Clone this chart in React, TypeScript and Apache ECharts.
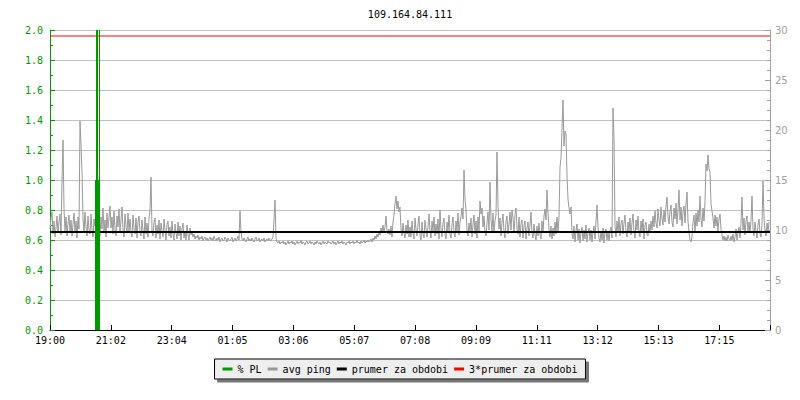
import React, { useEffect, useRef } from 'react';
import * as echarts from 'echarts';

const chartTitle = '109.164.84.111';
const xTickLabels = ['19:00', '21:02', '23:04', '01:05', '03:06', '05:07', '07:08', '09:09', '11:11', '13:12', '15:13', '17:15'];
const xTickStepMin = 121.7;
const xMaxMin = 1440;
const sampleStepMin = 2;

// avg ping (ms), one sample every 2 minutes starting at 19:00
const pingValues = [
  10.1, 11.2, 11.8, 9.6, 10.9, 9.3, 10.2, 11.4, 9.7, 10.8, 11.6, 9.5, 14.8, 19.0, 12.1, 9.9, 11.3, 9.4, 10.7, 11.5,
  9.8, 11.0, 9.4, 10.6, 11.7, 9.9, 10.9, 9.2, 11.3, 10.1, 20.9, 18.5, 15.8, 11.2, 9.7, 11.8, 10.3, 9.4, 11.4, 10.0,
  9.6, 11.6, 10.0, 9.3, 11.1, 10.4, 12.0, 9.7, 11.5, 10.3, 9.4, 11.3, 10.1, 12.2, 9.8, 11.0, 9.3, 11.7, 10.2, 11.2,
  12.4, 10.2, 11.3, 9.6, 11.9, 10.1, 9.4, 11.4, 10.3, 12.1, 9.8, 11.0, 12.3, 10.0, 9.3, 11.6, 10.4, 9.7, 11.7, 9.9,
  11.1, 9.8, 9.3, 11.5, 10.1, 9.6, 11.2, 9.2, 10.8, 11.4, 9.7, 9.4, 11.0, 10.0, 9.1, 11.3, 9.6, 10.7, 9.3, 11.1,
  12.0, 15.3, 9.9, 9.4, 10.8, 11.2, 9.2, 10.5, 9.6, 11.0, 9.1, 10.7, 9.8, 9.3, 11.1, 10.0, 9.0, 10.6, 10.9, 9.4,
  10.3, 9.2, 10.9, 9.6, 9.0, 10.6, 9.8, 9.1, 10.8, 9.4, 10.4, 9.0, 10.1, 10.7, 9.2, 9.9, 9.0, 10.5, 9.5, 9.0,
  10.2, 9.5, 9.8, 9.3, 9.6, 9.1, 9.4, 9.2, 9.5, 9.0, 9.3, 9.1, 9.4, 8.9, 9.2, 9.3, 9.0, 9.2, 8.9, 9.1,
  9.3, 9.0, 9.2, 8.9, 9.4, 9.1, 8.9, 9.2, 9.0, 9.3, 8.8, 9.1, 9.2, 8.9, 9.0, 9.3, 9.1, 8.8, 9.2, 9.0,
  8.9, 9.1, 9.3, 8.8, 9.0, 9.2, 8.9, 9.1, 9.4, 9.0, 11.9, 9.8, 9.1, 8.9, 9.2, 9.0, 8.8, 9.1, 9.3, 8.9,
  9.1, 8.9, 9.2, 9.0, 8.8, 9.1, 9.3, 8.9, 9.0, 9.2, 8.8, 9.0, 9.1, 8.9, 9.2, 8.8, 9.0, 9.1, 8.9, 9.2,
  9.0, 8.9, 9.1, 9.3, 11.0, 13.0, 9.2, 8.8, 8.7, 8.9, 8.6, 8.8, 8.7, 8.9, 8.6, 8.8, 8.5, 8.7, 8.9, 8.6,
  8.8, 8.7, 8.9, 8.6, 8.8, 8.5, 8.7, 8.9, 8.6, 8.8, 8.7, 9.0, 8.6, 8.8, 8.7, 8.5, 8.8, 8.9, 8.6, 8.7,
  8.9, 8.6, 8.8, 8.7, 8.5, 8.8, 8.6, 8.9, 8.7, 8.6, 8.8, 8.5, 8.7, 8.9, 8.6, 8.8, 8.7, 8.6, 8.9, 8.7,
  8.8, 8.6, 8.7, 8.9, 8.6, 8.8, 8.5, 8.7, 8.9, 8.6, 8.8, 8.7, 8.9, 8.6, 8.8, 8.7, 8.5, 8.8, 8.7, 8.9,
  8.6, 8.8, 8.7, 8.9, 8.6, 8.8, 8.7, 9.0, 8.7, 8.8, 8.6, 8.9, 8.7, 8.8, 9.0, 8.7, 8.9, 8.8, 9.0, 8.8,
  8.9, 9.1, 8.8, 9.2, 9.0, 9.4, 9.1, 9.6, 9.3, 9.9, 9.5, 10.2, 9.7, 10.5, 9.8, 10.3, 11.4, 10.0, 9.6, 10.1,
  9.5, 10.4, 9.3, 10.8, 11.5, 12.6, 13.4, 12.1, 12.9, 11.8, 12.3, 10.1, 9.4, 10.7, 9.7, 9.2, 10.5, 9.6, 11.0, 9.3,
  10.3, 9.3, 10.9, 9.7, 9.1, 11.2, 10.0, 9.4, 10.6, 11.4, 9.5, 9.0, 10.8, 9.6, 9.2, 11.0, 10.1, 9.3, 10.3, 11.6,
  9.8, 9.2, 10.9, 9.9, 11.3, 9.4, 10.6, 9.6, 11.1, 9.1, 12.0, 10.0, 9.3, 10.7, 11.2, 9.5, 9.1, 10.8, 9.8, 11.5,
  9.6, 9.2, 10.6, 11.3, 9.7, 9.3, 10.9, 9.9, 11.7, 9.5, 10.8, 11.4, 12.2, 11.1, 16.0, 13.1, 12.0, 10.0, 9.4, 10.7,
  9.8, 11.2, 9.3, 10.6, 11.5, 9.6, 10.9, 9.2, 11.3, 9.9, 12.9, 11.6, 12.2, 10.3, 11.4, 9.7, 9.4, 10.7, 11.8, 10.0,
  14.8, 11.0, 9.9, 11.7, 9.7, 10.9, 11.5, 17.8, 12.4, 10.1, 11.2, 9.4, 10.8, 11.6, 9.8, 9.2, 10.9, 11.4, 9.6, 10.6,
  11.8, 10.0, 12.0, 11.2, 9.8, 11.6, 12.2, 10.2, 9.6, 11.3, 9.3, 10.6, 11.0, 9.2, 10.4, 10.9, 9.1, 10.2, 10.8, 9.4,
  10.5, 11.8, 9.7, 9.2, 10.6, 9.5, 9.0, 10.4, 9.4, 10.7, 9.6, 9.1, 10.9, 9.8, 11.4, 12.1, 11.0, 14.0, 11.7, 10.1,
  9.3, 10.4, 9.1, 10.2, 9.4, 10.8, 9.6, 11.3, 9.9, 11.2, 16.3, 17.2, 20.1, 23.0, 18.4, 19.9, 19.6, 15.4, 13.1, 12.2,
  11.6, 12.3, 9.7, 9.1, 10.4, 8.8, 9.9, 10.6, 9.0, 10.1, 8.7, 9.8, 10.3, 8.9, 10.0, 9.1, 10.5, 8.8, 9.7, 10.2,
  9.0, 10.0, 8.8, 9.8, 10.4, 9.1, 10.8, 12.5, 10.3, 9.2, 8.8, 9.9, 9.0, 10.2, 8.7, 9.7, 10.1, 9.0, 9.8, 8.9,
  9.9, 10.3, 9.2, 22.2, 19.0, 10.4, 9.3, 10.9, 9.7, 11.3, 9.4, 10.6, 11.0, 9.6, 10.7, 11.5, 9.8, 9.3, 10.8, 9.9,
  11.2, 9.5, 10.7, 11.6, 9.8, 9.2, 11.0, 10.0, 11.4, 9.7, 9.3, 10.9, 9.9, 11.1, 9.1, 10.5, 10.8, 9.6, 9.4, 10.6,
  9.7, 10.9, 10.0, 11.4, 10.3, 11.9, 10.7, 10.2, 12.1, 11.0, 10.4, 12.3, 11.1, 10.5, 12.0, 10.8, 12.4, 13.3, 11.3, 10.6,
  11.9, 12.5, 10.8, 10.3, 12.2, 11.1, 12.7, 10.6, 12.0, 14.0, 11.0, 12.3, 10.4, 11.8, 12.4, 10.7, 12.6, 13.8, 10.9, 9.8,
  9.0, 8.8, 9.3, 10.8, 11.5, 9.7, 11.7, 10.4, 12.0, 10.8, 13.4, 11.1, 10.3, 12.2, 10.9, 12.8, 16.6, 15.9, 17.5, 16.1,
  15.8, 12.6, 11.9, 11.2, 10.2, 11.5, 10.4, 11.3, 9.9, 11.1, 11.6, 10.1, 9.5, 9.0, 9.4, 8.9, 9.3, 8.9, 9.5, 9.1,
  8.9, 9.4, 9.0, 9.6, 8.8, 9.3, 10.1, 9.0, 9.8, 10.3, 9.2, 10.7, 13.3, 10.0, 11.2, 9.5, 10.9, 11.4, 9.8, 10.8,
  9.7, 11.0, 13.4, 10.1, 9.4, 10.8, 9.8, 9.2, 10.5, 11.1, 9.7, 9.3, 10.6, 14.9, 11.2, 9.9, 9.4, 10.7, 9.8, 10.8,
];

// packet loss (%), step values starting at given minute
const plTimes = [0, 90, 92, 96, 98, 100, 1440];
const plValues = [0, 1.0, 5.0, 1.0, 5.0, 0, 0];

const avgPing = 9.8;
const legendNames = ['% PL', 'avg ping', 'prumer za obdobi', '3*prumer za obdobi'];

const FONT = "'DejaVu Sans Mono', monospace";
const GREEN = '#009900';
const GREY = '#999999';

export default function App() {
  const ref = useRef<HTMLDivElement>(null);
  useEffect(() => {
    if (!ref.current) return;
    const chart = echarts.init(ref.current, undefined, { renderer: 'svg' });
    const option: any = {
      animation: false,
      backgroundColor: '#ffffff',
      textStyle: { fontFamily: FONT, fontSize: 10 },
      grid: { left: 50, top: 30, width: 720, height: 300, containLabel: false },
      graphic: [
        {
          type: 'text',
          x: 410,
          y: 14,
          style: { text: chartTitle, textAlign: 'center', textVerticalAlign: 'middle', font: `10px ${FONT}`, fill: '#000' },
        },
      ],
      legend: {
        data: legendNames,
        left: 'center',
        top: 359,
        icon: 'rect',
        itemWidth: 10,
        itemHeight: 3,
        itemGap: 6,
        padding: [5, 8, 5, 8],
        backgroundColor: '#eeeeee',
        borderColor: '#000000',
        borderWidth: 1,
        borderRadius: 0,
        shadowColor: '#777777',
        shadowOffsetX: 3,
        shadowOffsetY: 3,
        shadowBlur: 0,
        selectedMode: false,
        textStyle: { color: '#000', fontFamily: FONT, fontSize: 10 },
      },
      xAxis: {
        type: 'value',
        min: 0,
        max: xMaxMin,
        interval: xTickStepMin,
        axisLine: { show: true, lineStyle: { color: '#000', width: 1 } },
        axisTick: { show: true, inside: true, length: 5, lineStyle: { color: '#000' } },
        axisLabel: {
          margin: 5,
          color: '#000',
          fontFamily: FONT,
          fontSize: 10,
          formatter: (v: number) => xTickLabels[Math.round(v / xTickStepMin)] ?? '',
        },
        splitLine: { show: false },
      },
      yAxis: [
        {
          type: 'value',
          min: 0,
          max: 2,
          interval: 0.2,
          position: 'left',
          axisLine: { show: true, lineStyle: { color: GREEN } },
          axisTick: { show: true, inside: true, length: 5, lineStyle: { color: GREEN } },
          minorTick: { show: true, splitNumber: 2, length: 3, lineStyle: { color: GREEN } },
          axisLabel: { color: GREEN, margin: 7, fontFamily: FONT, fontSize: 10, formatter: (v: number) => v.toFixed(1) },
          splitLine: { show: true, lineStyle: { color: '#c0c0c0', width: 1 } },
        },
        {
          type: 'value',
          min: 0,
          max: 30,
          interval: 5,
          position: 'right',
          axisLine: { show: true, lineStyle: { color: '#a0a0a0' } },
          axisTick: { show: true, inside: true, length: 5, lineStyle: { color: '#a0a0a0' } },
          minorTick: { show: true, splitNumber: 5, length: 3, lineStyle: { color: '#a0a0a0' } },
          axisLabel: { color: '#a0a0a0', margin: 5, fontFamily: "'DejaVu Sans', sans-serif", fontSize: 10 },
          splitLine: { show: false },
        },
      ],
      series: [
        {
          name: 'avg ping',
          type: 'line',
          yAxisIndex: 1,
          data: pingValues.map((v, i) => [i * sampleStepMin, v]),
          symbol: 'none',
          lineStyle: { color: GREY, width: 1 },
          itemStyle: { color: GREY },
          z: 2,
        },
        {
          name: 'prumer za obdobi',
          type: 'line',
          yAxisIndex: 1,
          data: [[0, avgPing], [xMaxMin, avgPing]],
          symbol: 'none',
          lineStyle: { color: '#000', width: 2 },
          itemStyle: { color: '#000' },
          z: 3,
        },
        {
          name: '3*prumer za obdobi',
          type: 'line',
          yAxisIndex: 1,
          data: [[0, 3 * avgPing], [xMaxMin, 3 * avgPing]],
          symbol: 'none',
          lineStyle: { color: '#ff0000', width: 1 },
          itemStyle: { color: '#ff0000' },
          z: 3,
        },
        {
          name: '% PL',
          type: 'line',
          yAxisIndex: 0,
          step: 'end',
          data: plTimes.map((t, i) => [t, plValues[i]]),
          symbol: 'none',
          lineStyle: { width: 0, color: GREEN },
          areaStyle: { color: GREEN, opacity: 1 },
          itemStyle: { color: GREEN },
          z: 4,
        },
      ],
    };
    chart.setOption(option);
    return () => chart.dispose();
  }, []);
  return <div ref={ref} style={{ position: 'fixed', left: 0, top: 0, width: 800, height: 400 }} />;
}
